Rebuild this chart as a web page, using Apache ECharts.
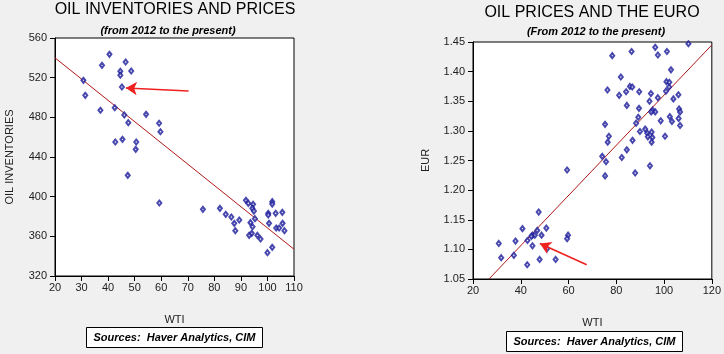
<!DOCTYPE html>
<html>
<head>
<meta charset="utf-8">
<script src="https://cdn.jsdelivr.net/npm/echarts@6/dist/echarts.min.js"></script>
<style>
html, body { margin: 0; padding: 0; background: #f0f0f0; }
#main { width: 724px; height: 354px; }
</style>
</head>
<body>
<div id="main"></div>
<script>
// left panel: WTI vs oil inventories
var invWti = [40.5, 37.7, 46.6, 44.6, 44.6, 48.7, 30.7, 45.2, 31.4, 37.1, 42.5, 46.1, 47.6, 54.3, 59.2, 59.7,
    42.7, 45.4, 50.6, 50.4, 47.4, 59.3, 75.7, 82.1, 84.3, 86.4, 89.4, 87.5, 87.9, 91.9, 92.8, 94.6, 94.3,
    94.9, 95.3, 93.6, 94.4, 94.1, 93.1, 96.2, 97.4, 101.8, 101.8, 100.3, 100.3, 103.1, 105.6, 100.6, 105.7,
    103.3, 104.4, 106.4, 101.8, 100.0];
var invStock = [543.5, 532.4, 535.8, 526.4, 522.4, 526.7, 517.3, 510.6, 502.2, 487.1, 489.7, 482.4, 474.6, 483.0, 474.0, 465.5,
    455.1, 457.8, 455.1, 447.7, 421.5, 393.6, 387.2, 388.2, 382.2, 379.5, 376.5, 373.1, 365.7, 396.3, 393.3, 392.3, 388.2,
    385.5, 377.8, 373.8, 369.7, 363.0, 361.0, 361.0, 357.3, 395.0, 392.5, 383.2, 381.5, 383.2, 384.2, 373.1, 373.1,
    368.4, 368.4, 365.7, 348.9, 343.5];
var invFitX = [20, 110];
var invFitY = [540, 347];
var invArrowX = [70.3, 46.7];
var invArrowY = [506.6, 509.6];
var invXTicks = [20, 110, 10];
var invYTicks = [320, 560, 40];

// right panel: WTI vs EUR
var eurWti = [110.2, 96.3, 97.4, 101.2, 86.4, 78.3, 102.9, 81.9, 101.0, 102.2, 85.7, 86.7, 76.3, 84.1, 89.6, 100.8,
    102.1, 94.5, 106.0, 81.2, 97.4, 103.9, 93.9, 84.4, 89.5, 95.2, 96.3, 94.6, 106.3, 106.7, 89.2, 102.4,
    106.1, 98.6, 103.3, 88.3, 75.3, 106.7, 92.1, 89.9, 93.0, 94.8, 76.9, 93.2, 95.1, 100.4, 86.8, 76.4,
    94.8, 84.4, 74.1, 82.3, 75.7, 94.1, 59.4, 75.3, 87.9, 47.5, 40.7, 50.7, 46.9, 44.9, 45.9, 48.7,
    44.4, 42.8, 37.8, 30.8, 44.9, 59.8, 59.4, 51.0, 31.8, 37.1, 47.9, 54.6, 42.7];
var eurRate = [1.447, 1.441, 1.428, 1.434, 1.434, 1.427, 1.403, 1.391, 1.383, 1.382, 1.375, 1.374, 1.369, 1.366, 1.366, 1.367,
    1.374, 1.363, 1.361, 1.360, 1.356, 1.354, 1.350, 1.343, 1.338, 1.335, 1.332, 1.332, 1.337, 1.332, 1.323, 1.324,
    1.321, 1.317, 1.316, 1.313, 1.311, 1.309, 1.303, 1.299, 1.296, 1.298, 1.291, 1.290, 1.289, 1.291, 1.284, 1.281,
    1.281, 1.268, 1.257, 1.255, 1.248, 1.241, 1.234, 1.224, 1.229, 1.163, 1.135, 1.136, 1.132, 1.124, 1.124, 1.124,
    1.122, 1.115, 1.114, 1.110, 1.106, 1.124, 1.118, 1.101, 1.086, 1.090, 1.083, 1.083, 1.074];
var eurFitX = [26.7, 120];
var eurFitY = [1.05, 1.445];
var eurArrowX = [67.6, 48.0];
var eurArrowY = [1.074, 1.110];
var eurXTicks = [20, 120, 20];
var eurYTicks = [1.05, 1.45, 0.05];

function zip(xs, ys) {
    var out = [];
    for (var i = 0; i < xs.length; i++) {
        out.push([xs[i], ys[i]]);
    }
    return out;
}

var FONT = 'Liberation Sans';
var dotColor = '#1a1a9a';
var fitColor = '#b01818';
var arrowColor = '#ee2020';

/**
 * 坐标轴通用样式
 */
function axisOf(ticks, gridIndex, name, nameGap, isY, fmt) {
    return {
        type: 'value',
        gridIndex: gridIndex,
        min: ticks[0],
        max: ticks[1],
        interval: ticks[2],
        name: name,
        nameLocation: 'middle',
        nameGap: nameGap,
        nameTextStyle: { fontFamily: FONT, fontSize: 11, color: '#222' },
        axisLine: { show: true, onZero: false, lineStyle: { color: '#000', width: 1 } },
        axisTick: { show: true, length: 5, lineStyle: { color: '#000' } },
        axisLabel: {
            fontFamily: FONT, fontSize: 11, color: '#222', margin: isY ? 8 : 6,
            formatter: fmt
        },
        splitLine: { show: false }
    };
}

function arrowLine(xs, ys) {
    return {
        silent: true,
        symbol: ['none', 'arrow'],
        symbolSize: [10, 11],
        label: { show: false },
        lineStyle: { color: arrowColor, width: 1.6, type: 'solid' },
        data: [[{ coord: [xs[0], ys[0]] }, { coord: [xs[1], ys[1]] }]]
    };
}

function sourceBox(x, y) {
    return {
        type: 'group',
        left: x,
        top: y,
        children: [
            {
                type: 'rect',
                shape: { x: 0, y: 0, width: 176, height: 20 },
                style: { fill: '#fff', stroke: '#000', lineWidth: 1 }
            },
            {
                type: 'text',
                x: 88,
                y: 10,
                style: {
                    text: 'Sources:  Haver Analytics, CIM',
                    font: 'italic bold 11px "' + FONT + '"',
                    fill: '#000',
                    align: 'center',
                    verticalAlign: 'middle'
                }
            }
        ]
    };
}

function headText(x, y, txt, font) {
    return {
        type: 'text',
        x: x,
        y: y,
        style: { text: txt, font: font, fill: '#000', align: 'center', verticalAlign: 'middle' }
    };
}

function dots(xs, ys, idx) {
    return {
        type: 'scatter',
        xAxisIndex: idx,
        yAxisIndex: idx,
        symbol: 'emptyDiamond',
        symbolSize: [4, 5],
        itemStyle: { color: dotColor, borderColor: dotColor, borderWidth: 0.6 },
        data: zip(xs, ys),
        z: 3
    };
}

function fit(xs, ys, idx) {
    return {
        type: 'line',
        xAxisIndex: idx,
        yAxisIndex: idx,
        symbol: 'none',
        lineStyle: { color: fitColor, width: 1 },
        data: zip(xs, ys),
        z: 2
    };
}

var chart = echarts.init(document.getElementById('main'), null, { renderer: 'canvas' });

var invDots = dots(invWti, invStock, 0);
invDots.markLine = arrowLine(invArrowX, invArrowY);
var eurDots = dots(eurWti, eurRate, 1);
eurDots.markLine = arrowLine(eurArrowX, eurArrowY);

var option = {
    backgroundColor: '#f0f0f0',
    animation: false,
    grid: [
        { left: 55, top: 38, width: 239, height: 238, show: true, backgroundColor: '#fff', borderColor: '#000', borderWidth: 1 },
        { left: 473, top: 42, width: 240, height: 237, show: true, backgroundColor: '#fff', borderColor: '#000', borderWidth: 1 }
    ],
    xAxis: [
        axisOf(invXTicks, 0, 'WTI', 38, false),
        axisOf(eurXTicks, 1, 'WTI', 38, false)
    ],
    yAxis: [
        axisOf(invYTicks, 0, 'OIL INVENTORIES', 40, true),
        axisOf(eurYTicks, 1, 'EUR', 42, true, function (v) { return v.toFixed(2); })
    ],
    series: [
        invDots,
        fit(invFitX, invFitY, 0),
        eurDots,
        fit(eurFitX, eurFitY, 1)
    ],
    graphic: [
        headText(175, 10, 'OIL INVENTORIES AND PRICES', '16px "' + FONT + '"'),
        headText(168, 31, '(from 2012 to the present)', 'italic bold 11px "' + FONT + '"'),
        headText(592, 13, 'OIL PRICES AND THE EURO', '16px "' + FONT + '"'),
        headText(596, 32, '(From 2012 to the present)', 'italic bold 11px "' + FONT + '"'),
        sourceBox(86, 327),
        sourceBox(506, 331)
    ]
};

chart.setOption(option);
</script>
</body>
</html>
